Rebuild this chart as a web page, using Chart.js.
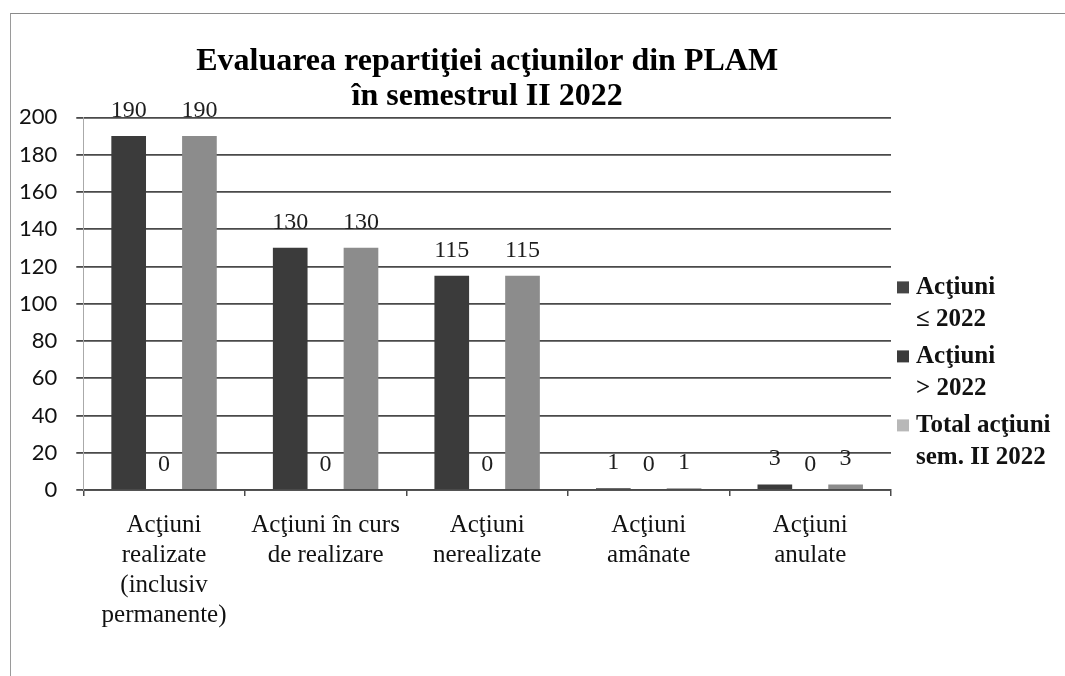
<!DOCTYPE html>
<html>
<head>
<meta charset="utf-8">
<script src="https://cdn.jsdelivr.net/npm/chart.js@4/dist/chart.umd.min.js"></script>
<style>
    html, body { margin: 0; padding: 0; background: #fff; }
    #wrap { position: relative; width: 1065px; height: 676px; overflow: hidden; }
    #frame { position: absolute; left: 10px; top: 13px; width: 1060px; height: 700px;
             border-top: 1px solid #8a8a8a; border-left: 1px solid #9a9a9a; }
    #c { position: absolute; left: 0; top: 0; }
</style>
</head>
<body>
<div id="wrap">
    <div id="frame"></div>
    <canvas id="c" width="1065" height="676"></canvas>
</div>
<script>
const categories = [
    ['Acţiuni', 'realizate', '(inclusiv', 'permanente)'],
    ['Acţiuni în curs', 'de realizare'],
    ['Acţiuni', 'nerealizate'],
    ['Acţiuni', 'amânate'],
    ['Acţiuni', 'anulate']
];
const seriesNames = [
    ['Acţiuni', '≤ 2022'],
    ['Acţiuni', '> 2022'],
    ['Total acţiuni', 'sem. II 2022']
];
const upTo2022 = [190, 130, 115, 1, 3];
const after2022 = [0, 0, 0, 0, 0];
const totalSem2 = [190, 130, 115, 1, 3];
const yTicks = [0, 20, 40, 60, 80, 100, 120, 140, 160, 180, 200];

const darkColor = '#3b3b3b';
const darkColor2 = '#343434';
const totalColor = '#8c8c8c';
const legendColors = ['#454545', '#3a3a3a', '#b8b8b8'];
const serif = '"Liberation Serif", "Times New Roman", serif';

// numbers above each bar
const valueLabels = {
    id: 'valueLabels',
    afterDatasetsDraw(chart) {
        const ctx = chart.ctx;
        ctx.save();
        ctx.font = '24px ' + serif;
        ctx.fillStyle = '#1e1e1e';
        ctx.textAlign = 'center';
        ctx.textBaseline = 'alphabetic';
        chart.data.datasets.forEach((ds, i) => {
            chart.getDatasetMeta(i).data.forEach((bar, j) => {
                ctx.fillText(String(ds.data[j]), bar.x, bar.y - 19);
            });
        });
        ctx.restore();
    }
};

// two-line legend on the right
const sideLegend = {
    id: 'sideLegend',
    afterDraw(chart) {
        const ctx = chart.ctx;
        const area = chart.chartArea;
        const x = area.right + 6;
        let y = area.top + 170;
        ctx.save();
        ctx.font = 'bold 25px ' + serif;
        ctx.textAlign = 'left';
        ctx.textBaseline = 'middle';
        chart.data.datasets.forEach((ds, i) => {
            ctx.fillStyle = legendColors[i];
            ctx.fillRect(x, y - 6, 12, 12);
            ctx.fillStyle = '#111';
            ds.label.forEach((line, k) => {
                ctx.fillText(line, x + 19, y + k * 32);
            });
            y += 69;
        });
        ctx.restore();
    }
};

const data = {
    labels: categories,
    datasets: [
        { label: seriesNames[0], data: upTo2022, backgroundColor: darkColor },
        { label: seriesNames[1], data: after2022, backgroundColor: darkColor2 },
        { label: seriesNames[2], data: totalSem2, backgroundColor: totalColor }
    ]
};

const config = {
    type: 'bar',
    data: data,
    options: {
        responsive: false,
        animation: false,
        datasets: {
            bar: { barPercentage: 0.98, categoryPercentage: 0.657 }
        },
        layout: {
            padding: { top: 20, left: 0, right: 174, bottom: 32 }
        },
        plugins: {
            legend: { display: false },
            tooltip: { enabled: false },
            title: {
                display: true,
                fullSize: false,
                text: ['Evaluarea repartiţiei acţiunilor din PLAM', 'în semestrul II 2022'],
                color: '#000',
                font: { family: serif, size: 32, weight: 'bold', lineHeight: 1.1 },
                padding: { top: 24, bottom: 3 }
            }
        },
        scales: {
            x: {
                grid: { display: true, drawOnChartArea: false, drawTicks: true, tickLength: 6, color: '#4a4a4a', lineWidth: 1.5 },
                border: { color: '#4a4a4a', width: 1.8 },
                ticks: {
                    color: '#111',
                    font: { family: serif, size: 25, lineHeight: 1.2 },
                    padding: 14,
                    maxRotation: 0,
                    autoSkip: false
                }
            },
            y: {
                min: 0,
                max: 200,
                afterBuildTicks: axis => { axis.ticks = yTicks.map(v => ({ value: v })); },
                grid: { color: '#4a4a4a', lineWidth: 1.8, tickLength: 7 },
                border: { color: '#aaa', width: 1 },
                ticks: {
                    color: '#111',
                    font: { family: 'Lato, "Open Sans", sans-serif', size: 22 },
                    padding: 19
                }
            }
        }
    },
    plugins: [valueLabels, sideLegend]
};

new Chart(document.getElementById('c'), config);
</script>
</body>
</html>
